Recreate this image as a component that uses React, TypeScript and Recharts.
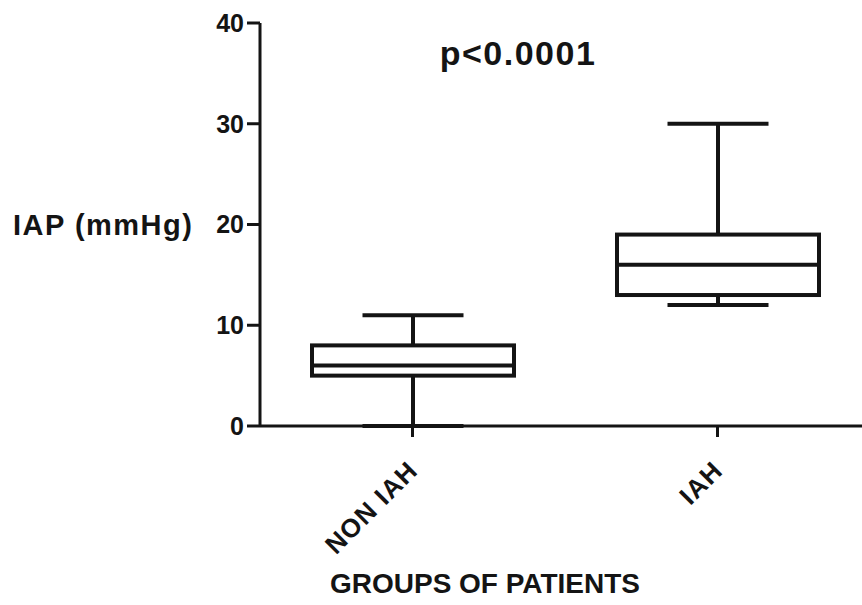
import { ComposedChart, Bar, XAxis, YAxis, Customized } from "recharts";

// box plot summary per group (mmHg)
const groups = ["NON IAH", "IAH"];
const mins = [0, 12];
const q1s = [5, 13];
const medians = [6, 16];
const q3s = [8, 19];
const maxs = [11, 30];
const yTicks = [0, 10, 20, 30, 40];

const data = groups.map((g, i) => ({
  group: g,
  min: mins[i],
  q1: q1s[i],
  median: medians[i],
  q3: q3s[i],
  max: maxs[i],
}));

const INK = "#141414";
const FONT = "'Liberation Sans', Arial, sans-serif";

// draws one box + whiskers; y/height come from the [min, max] range bar
const BoxShape = (props: any) => {
  const { x, y, width, height, payload } = props;
  const { min, q1, median, q3, max } = payload;
  const py = (v: number) => y + (height * (max - v)) / (max - min);
  const cx = x + width / 2;
  const cap = width / 4;
  return (
    <g stroke={INK} strokeWidth={4} fill="none">
      <line x1={cx} x2={cx} y1={py(max)} y2={py(q3)} />
      <line x1={cx} x2={cx} y1={py(q1)} y2={py(min)} />
      <line x1={cx - cap} x2={cx + cap} y1={py(max)} y2={py(max)} />
      <line x1={cx - cap} x2={cx + cap} y1={py(min)} y2={py(min)} />
      <rect x={x} y={py(q3)} width={width} height={py(q1) - py(q3)} fill="#fff" />
      <line x1={x} x2={x + width} y1={py(median)} y2={py(median)} />
    </g>
  );
};

const XTick = ({ x, y, payload }: any) => {
  const ax = x + 7;
  const ay = y + 35;
  return (
    <text
      x={ax}
      y={ay}
      transform={`rotate(-45 ${ax} ${ay})`}
      textAnchor="end"
      fontFamily={FONT}
      fontWeight="bold"
      fontSize={26}
      letterSpacing={1.2}
      fill={INK}
    >
      {payload.value}
    </text>
  );
};

const Annotations = () => (
  <g fontFamily={FONT} fontWeight="bold" fill={INK}>
    <text x={518} y={65} textAnchor="middle" fontSize={34} letterSpacing={1.5}>
      p&lt;0.0001
    </text>
    <text x={13} y={235} fontSize={29} letterSpacing={1.5}>
      IAP (mmHg)
    </text>
    <text x={485} y={593} textAnchor="middle" fontSize={28}>
      GROUPS OF PATIENTS
    </text>
  </g>
);

export default function App() {
  return (
    <div
      style={{
        position: "fixed",
        top: 0,
        left: 0,
        width: 862,
        height: 605,
        overflow: "hidden",
        background: "#fff",
      }}
    >
      <ComposedChart
        width={870}
        height={605}
        data={data}
        margin={{ top: 23, right: 0, bottom: 0, left: 0 }}
        style={{ fontFamily: FONT }}
      >
        <XAxis
          dataKey="group"
          height={179}
          interval={0}
          tickSize={11}
          tickMargin={0}
          tick={<XTick />}
          axisLine={{ stroke: INK, strokeWidth: 3 }}
          tickLine={{ stroke: INK, strokeWidth: 3 }}
        />
        <YAxis
          width={260}
          domain={[0, 40]}
          ticks={yTicks}
          interval={0}
          tickSize={13}
          tickMargin={3}
          tick={{ fill: INK, fontSize: 25, fontWeight: "bold", fontFamily: FONT }}
          axisLine={{ stroke: INK, strokeWidth: 3 }}
          tickLine={{ stroke: INK, strokeWidth: 3 }}
        />
        <Bar
          dataKey={(d: any) => [d.min, d.max]}
          barSize={202}
          shape={BoxShape}
          isAnimationActive={false}
        />
        <Customized component={Annotations} />
      </ComposedChart>
    </div>
  );
}
